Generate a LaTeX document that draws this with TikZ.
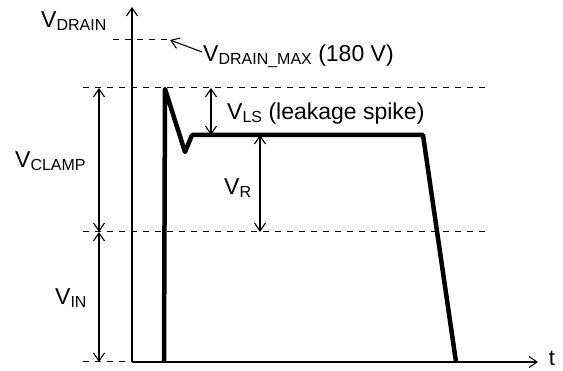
\documentclass[tikz,border=0pt]{standalone}
\usepackage{fontspec}
\setmainfont{Liberation Sans}
\usetikzlibrary{arrows.meta}
\newcommand\subt[1]{\raisebox{-2.5pt}{\fontsize{16}{16}\selectfont #1}}
\begin{document}
\begin{tikzpicture}[x=1pt,y=-1pt,
  thin line/.style={line width=1.1pt},
  guide/.style={line width=1pt,dash pattern=on 6pt off 6pt},
  wave/.style={line width=4.5pt,line join=round},
  tip/.style={-{Straight Barb[length=8pt,width=11pt,line width=1.1pt]}},
  dtip/.style={{Straight Barb[length=8pt,width=11pt,line width=1.1pt]}-{Straight Barb[length=8pt,width=11pt,line width=1.1pt]}},
  lbl/.style={font=\fontsize{23}{23}\selectfont,inner sep=0pt,anchor=base west}]
\useasboundingbox (0,0) rectangle (563,371);
% coordinates
\coordinate (O) at (132,362);
\coordinate (Ytop) at (132,7);
\coordinate (Xend) at (538,362);
% guide lines
\draw[guide] (113,40) -- (170,40);
\draw[guide] (83,88) -- (485,88);
\draw[guide] (83,232) -- (485,232);
\draw[guide] (83,362) -- (482,362);
% axes
\draw[thin line,tip] (O) -- (Ytop);
\draw[thin line,tip] (O) -- (Xend);
\node[lbl,anchor=base,text depth=0pt,font=\fontsize{22}{22}\selectfont] (t) at (552,366) {t};
% waveform
\coordinate (w0) at (164,362);
\coordinate (w1) at (165,89);
\coordinate (w2) at (185,152);
\coordinate (w3) at (192,135);
\coordinate (w4) at (423,135);
\coordinate (w5) at (456,362);
\draw[wave] (w0) -- (w1) -- (w2) -- (w3) -- (w4) -- (w5);
% dimension arrows
\coordinate (c1) at (99,88);
\coordinate (c2) at (99,232);
\coordinate (c3) at (99,362);
\draw[thin line,dtip] (c1) -- (c2);
\draw[thin line,dtip] (c2) -- (c3);
\coordinate (ls1) at (211,88);
\coordinate (ls2) at (211,135);
\draw[thin line,dtip] (ls1) -- (ls2);
\coordinate (r1) at (260,135);
\coordinate (r2) at (260,232);
\draw[thin line,dtip] (r1) -- (r2);
% labels
\node[lbl] (vdrain) at (41,28) {V\subt{DRAIN}};
\node[lbl] (vdmax) at (203,62) {V\subt{DRAIN\_MAX} (180 V)};
\coordinate (dm) at (170,40);
\draw[thin line,tip] (202,52) -- (dm);
\node[lbl] (vls) at (227,120) {V\subt{LS} (leakage spike)};
\node[lbl] (vr) at (224,195) {V\subt{R}};
\node[lbl] (vclamp) at (15,168) {V\subt{CLAMP}};
\node[lbl] (vin) at (55,305) {V\subt{IN}};
\end{tikzpicture}
\end{document}
